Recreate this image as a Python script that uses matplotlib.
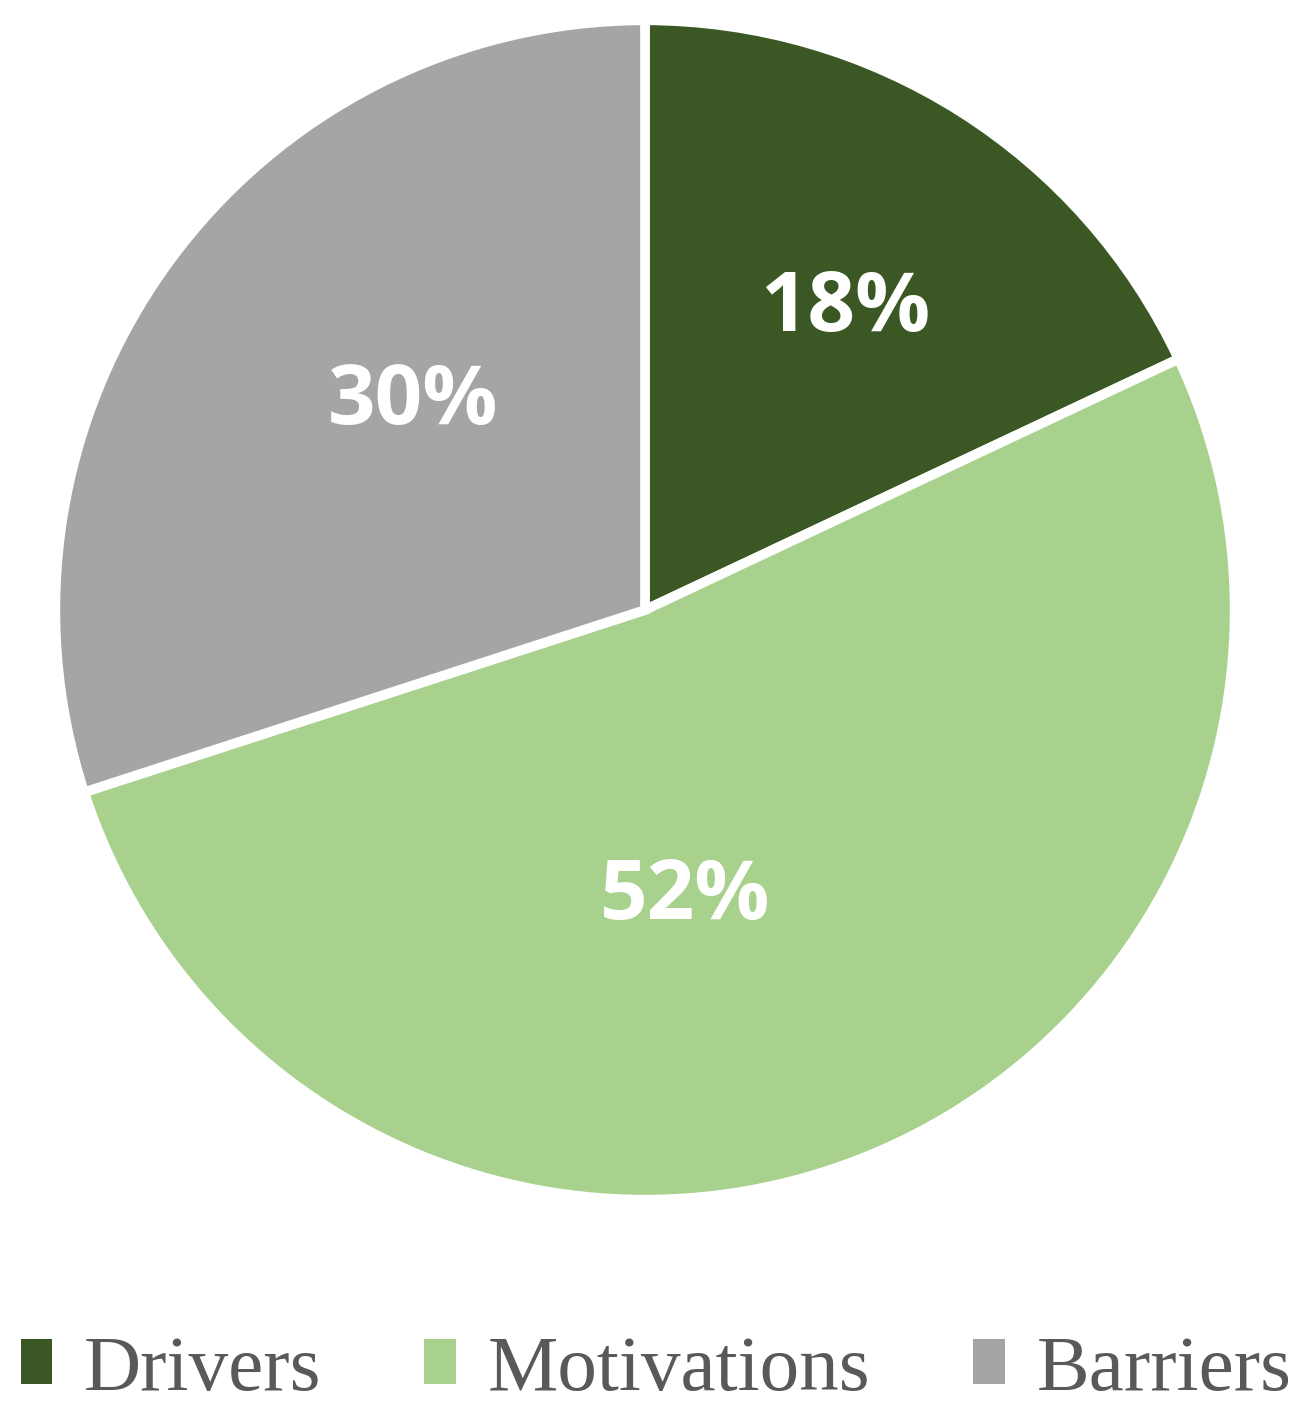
import matplotlib
matplotlib.use('Agg')
import matplotlib.pyplot as plt
from matplotlib.patches import Patch

# data
categories = ['Drivers', 'Motivations', 'Barriers']
shares = [18, 52, 30]
colors = ['#3b5824', '#a9d18e', '#a5a5a5']

W, H, DPI = 1314, 1428, 100
fig = plt.figure(figsize=(W / DPI, H / DPI), dpi=DPI)

# pie: radius ~585 px, centred at about (645, 610) px
ax = fig.add_axes([60 / W, (H - 1195) / H, 1170 / W, 1170 / H])
wedges, _ = ax.pie(
    shares, colors=colors, startangle=90, counterclock=False,
    radius=1.008, wedgeprops=dict(edgecolor='white', linewidth=7),
)
ax.set_xlim(-1, 1)
ax.set_ylim(-1, 1)
ax.set_aspect('equal')
ax.axis('off')

# percentage labels, positions as Excel placed them (fraction of radius)
label_pos = [(0.342, 0.513), (0.068, -0.491), (-0.396, 0.354)]
for (x, y), v in zip(label_pos, shares):
    ax.text(x, y, f'{v}%', ha='center', va='center', color='white',
            fontsize=60, fontweight='bold', family='Open Sans')

handles = [Patch(facecolor=c, edgecolor='none') for c in colors]
fig.legend(
    handles, categories, loc='center', bbox_to_anchor=(656 / W, 1 - 1371 / H),
    ncol=3, frameon=False,
    prop=dict(family='Liberation Serif', size=57),
    labelcolor='#595959', handlelength=0.4, handleheight=0.5,
    handletextpad=0.4, columnspacing=1.3, borderpad=0, borderaxespad=0,
)

fig.savefig('out.png', dpi=DPI, facecolor='white')
